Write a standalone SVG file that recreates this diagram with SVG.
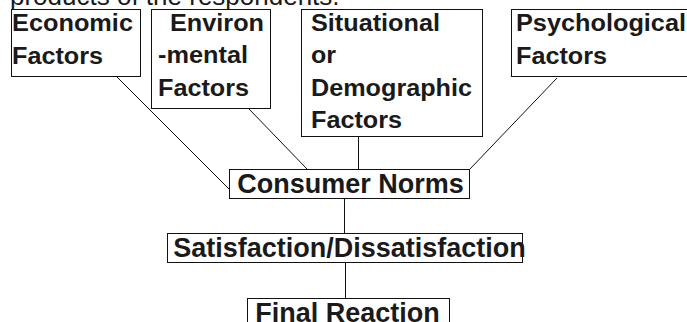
<svg xmlns="http://www.w3.org/2000/svg" width="687" height="322" viewBox="0 0 687 322">
<style>
.box{fill:#fff;stroke:#111;stroke-width:1}
.t{font-family:"Liberation Sans",Arial,sans-serif;font-weight:bold;font-size:23.5px;fill:#1a1a1a}
.b{font-family:"Liberation Sans",Arial,sans-serif;font-weight:bold;font-size:27px;fill:#1a1a1a;text-anchor:middle}
.hdr{font-family:"Liberation Sans",Arial,sans-serif;font-size:26px;fill:#1a1a1a}
.c{stroke:#111;stroke-width:1;fill:none}
</style>
<rect width="687" height="322" fill="#fff"/>
<text class="hdr" x="10" y="5">products of the respondents.</text>
<g id="connectors">
<line class="c" x1="116" y1="76" x2="229" y2="189"/>
<line class="c" x1="249" y1="109" x2="307" y2="169"/>
<line class="c" x1="358.5" y1="136" x2="358.5" y2="169"/>
<line class="c" x1="557" y1="78" x2="470" y2="169"/>
<line class="c" x1="344.5" y1="198" x2="344.5" y2="233"/>
<line class="c" x1="345.5" y1="262" x2="345.5" y2="298"/>
</g>
<g id="economic">
<rect class="box" x="11.5" y="9.5" width="129" height="67"/>
<text class="t" x="12" y="31" textLength="121" lengthAdjust="spacingAndGlyphs">Economic</text>
<text class="t" x="12" y="64" textLength="91" lengthAdjust="spacingAndGlyphs">Factors</text>
</g>
<g id="environmental">
<rect class="box" x="151.5" y="9.5" width="119" height="99"/>
<text class="t" x="170" y="31" textLength="94" lengthAdjust="spacingAndGlyphs">Environ</text>
<text class="t" x="158" y="63" textLength="90" lengthAdjust="spacingAndGlyphs">-mental</text>
<text class="t" x="158" y="96" textLength="91" lengthAdjust="spacingAndGlyphs">Factors</text>
</g>
<g id="situational">
<rect class="box" x="301.5" y="9.5" width="181" height="127"/>
<text class="t" x="311" y="31" textLength="129" lengthAdjust="spacingAndGlyphs">Situational</text>
<text class="t" x="311" y="63" textLength="25" lengthAdjust="spacingAndGlyphs">or</text>
<text class="t" x="311" y="96" textLength="161" lengthAdjust="spacingAndGlyphs">Demographic</text>
<text class="t" x="311" y="128" textLength="91" lengthAdjust="spacingAndGlyphs">Factors</text>
</g>
<g id="psychological">
<rect class="box" x="511.5" y="9.5" width="190" height="67"/>
<text class="t" x="516" y="31" textLength="170" lengthAdjust="spacingAndGlyphs">Psychological</text>
<text class="t" x="516" y="64" textLength="91" lengthAdjust="spacingAndGlyphs">Factors</text>
</g>
<g id="consumer-norms">
<rect class="box" x="229.5" y="169.5" width="240" height="29"/>
<text class="b" x="350.5" y="193">Consumer Norms</text>
</g>
<g id="satisfaction">
<rect class="box" x="167.5" y="233.5" width="355" height="29"/>
<text class="b" x="349.5" y="257">Satisfaction/Dissatisfaction</text>
</g>
<g id="final-reaction">
<rect class="box" x="247.5" y="298.5" width="202" height="40"/>
<text class="b" x="347.5" y="322">Final Reaction</text>
</g>
</svg>
